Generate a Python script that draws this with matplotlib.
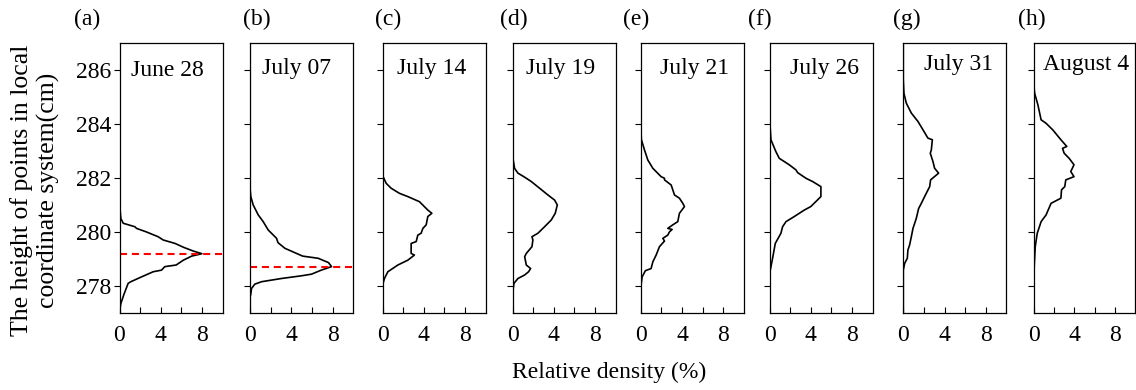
import matplotlib
matplotlib.use("Agg")
import matplotlib.pyplot as plt
from matplotlib.ticker import FixedLocator

plt.rcParams['font.family'] = ['Liberation Serif', 'DejaVu Serif']

panel_labels = ['(a)', '(b)', '(c)', '(d)', '(e)', '(f)', '(g)', '(h)']
dates = ['June 28', 'July 07', 'July 14', 'July 19', 'July 21', 'July 26', 'July 31', 'August 4']

# (height cm, relative density %)
height_a = [277.0, 277.04, 277.34, 277.7, 278.09, 278.15, 278.33, 278.52, 278.58, 278.71, 278.77, 278.95, 279.1,
            279.19, 279.29, 279.43, 279.57, 279.7, 279.82, 280.0, 280.13, 280.19, 280.32, 280.5, 280.81, 280.87, 287.0]
density_a = [0.0, 0.0, 0.13, 0.45, 0.84, 1.1, 2.14, 3.27, 4.08, 4.4, 5.5, 6.2, 7.0,
             8.0, 7.15, 6.2, 5.4, 4.24, 3.75, 2.6, 1.65, 1.5, 0.36, 0.13, 0.06, 0.0, 0.0]

height_b = [277.0, 277.6, 277.7, 277.9, 278.06, 278.15, 278.27, 278.37, 278.43, 278.58, 278.71, 278.86, 279.02,
            279.1, 279.2, 279.39, 279.6, 279.76, 280.07, 280.38, 280.63, 281.0, 281.31, 281.56, 287.0]
density_b = [0.0, 0.0, 0.06, 0.13, 0.45, 1.1, 3.04, 4.98, 5.95, 6.9, 7.9, 7.6, 6.6,
             5.1, 4.5, 3.37, 2.7, 2.56, 1.75, 1.26, 0.78, 0.29, 0.06, 0.0, 0.0]

height_c = [277.0, 278.02, 278.27, 278.52, 278.77, 278.95, 279.14, 279.2, 279.57, 279.64, 279.88, 279.95, 280.13,
            280.26, 280.57, 280.69, 280.81, 281.12, 281.31, 281.43, 281.62, 281.8, 282.05, 282.24, 287.0]
density_c = [0.0, 0.0, 0.19, 0.52, 1.49, 2.46, 3.1, 2.78, 2.78, 3.27, 3.43, 3.75, 3.92,
             4.24, 4.4, 4.79, 4.4, 3.59, 2.46, 1.65, 0.84, 0.36, 0.06, 0.0, 0.0]

height_d = [277.0, 277.7, 278.09, 278.27, 278.4, 278.52, 278.64, 278.77, 279.08, 279.2, 279.45, 279.7, 279.82,
            279.95, 280.19, 280.44, 280.69, 281.0, 281.18, 281.37, 281.62, 281.87, 282.03, 282.18, 282.36,
            282.67, 283.17, 287.0]
density_d = [0.0, 0.0, 0.13, 0.52, 1.17, 1.55, 1.75, 1.33, 1.17, 1.33, 1.88, 1.97, 1.88,
             2.46, 3.1, 3.75, 4.14, 4.34, 4.08, 3.43, 2.62, 1.81, 1.17, 0.52, 0.19,
             0.06, 0.0, 0.0]

height_e = [277.0, 277.96, 278.33, 278.56, 278.64, 278.89, 279.14, 279.45, 279.66, 279.76, 279.88, 280.0, 280.09,
            280.13, 280.26, 280.38, 280.69, 280.94, 281.06, 281.25, 281.37, 281.74, 281.93, 281.99, 282.05,
            282.36, 282.67, 283.04, 283.42, 283.91, 287.0]
density_e = [0.0, 0.0, 0.13, 0.45, 1.0, 1.17, 1.49, 1.81, 2.3, 2.14, 2.62, 2.78, 3.04,
             2.62, 3.1, 3.59, 3.75, 4.24, 4.08, 3.75, 3.27, 2.95, 2.3, 2.3, 1.97,
             1.17, 0.68, 0.36, 0.06, 0.0, 0.0]

height_f = [277.0, 278.46, 278.71, 279.02, 279.57, 279.95, 280.19, 280.38, 280.57, 280.81, 280.94, 281.31, 281.68,
            281.87, 281.99, 282.2, 282.3, 282.49, 282.73, 282.98, 283.42, 284.03, 284.53, 287.0]
density_f = [0.0, 0.0, 0.13, 0.29, 0.55, 1.1, 1.26, 1.59, 2.4, 3.37, 4.0, 4.98, 4.98,
             4.17, 3.53, 2.72, 2.56, 1.91, 0.94, 0.61, 0.13, 0.03, 0.0, 0.0]

height_g = [277.0, 278.58, 278.83, 279.02, 279.33, 279.51, 279.82, 280.13, 280.5, 280.87, 281.06, 281.31, 281.68,
            281.93, 282.18, 282.36, 282.61, 282.92, 283.04, 283.42, 283.48, 283.79, 284.1, 284.41, 284.78,
            285.15, 285.65, 287.0]
density_g = [0.0, 0.0, 0.13, 0.39, 0.45, 0.61, 0.78, 0.94, 1.26, 1.49, 1.75, 2.07, 2.56,
             2.65, 3.43, 3.04, 2.88, 2.62, 2.72, 2.82, 2.39, 1.91, 1.42, 0.78, 0.29,
             0.06, 0.0, 0.0]

height_h = [277.0, 278.09, 278.71, 279.45, 279.95, 280.38, 280.63, 281.06, 281.25, 281.56, 281.68, 281.93, 282.05,
            282.24, 282.49, 282.73, 282.92, 283.1, 283.17, 283.42, 283.79, 284.03, 284.16, 284.72, 285.15,
            285.52, 287.0]
density_h = [0.0, 0.0, 0.06, 0.16, 0.36, 0.74, 1.23, 1.72, 2.69, 2.75, 3.07, 3.17, 3.98,
             3.66, 3.98, 3.5, 3.01, 2.85, 3.27, 2.69, 1.88, 1.23, 0.74, 0.42, 0.1,
             0.0, 0.0]

heights = [height_a, height_b, height_c, height_d, height_e, height_f, height_g, height_h]
densities = [density_a, density_b, density_c, density_d, density_e, density_f, density_g, density_h]

# red dashed reference heights (panels a and b)
ref_heights = [279.18, 278.71, None, None, None, None, None, None]

y_ticks = [278, 280, 282, 284, 286]
x_major = [0, 4, 8]
x_minor = [2, 6]

W, H = 1136, 390
fig = plt.figure(figsize=(W / 100, H / 100), dpi=100)

lefts_px = [119.5, 250.2, 382.5, 512.6, 640.8, 769.6, 903.3, 1033.6]
widths_px = [103, 103, 103, 103, 103, 103, 103, 101.5]
bottom_px, height_px = 312.7, 269.4
label_x_px = [74, 243, 375, 500, 623, 748, 893, 1018]
date_x = [0.46, 0.445, 0.48, 0.47, 0.52, 0.53, 0.54, 0.52]
date_y = [0.9, 0.905, 0.905, 0.905, 0.905, 0.905, 0.922, 0.922]

FS = 17
for i in range(8):
    ax = fig.add_axes([lefts_px[i] / W, (H - bottom_px) / H, widths_px[i] / W, height_px / H])
    ax.plot(densities[i], heights[i], color='black', lw=1.2)
    if ref_heights[i] is not None:
        ax.axhline(ref_heights[i], color='red', lw=1.5, dashes=(3.4, 2.3))
    ax.set_xlim(0, 10)
    ax.set_ylim(277, 287)
    ax.set_yticks(y_ticks)
    ax.xaxis.set_major_locator(FixedLocator(x_major))
    ax.xaxis.set_minor_locator(FixedLocator(x_minor))
    ax.tick_params(axis='y', direction='out', length=4, width=0.8, labelsize=FS, pad=2)
    ax.tick_params(axis='x', which='both', direction='in', length=4, width=0.8, labelsize=FS, pad=9)
    if i > 0:
        ax.set_yticklabels([])
    for sp in ax.spines.values():
        sp.set_linewidth(0.9)
        sp.set_color('black')
    ax.text(date_x[i], date_y[i], dates[i], transform=ax.transAxes, ha='center', va='center', fontsize=FS)
    fig.text(label_x_px[i] / W, 1 - 19 / H, panel_labels[i], ha='left', va='center', fontsize=FS)

fig.text(35 / W, 1 - 190 / H, 'The height of points in local\ncoordinate system(cm)', rotation=90,
         ha='center', va='center', multialignment='center', fontsize=18.5, linespacing=1.25)
fig.text(609 / W, 1 - 372 / H, 'Relative density (%)', ha='center', va='center', fontsize=FS)

fig.savefig('out.png', dpi=100)
